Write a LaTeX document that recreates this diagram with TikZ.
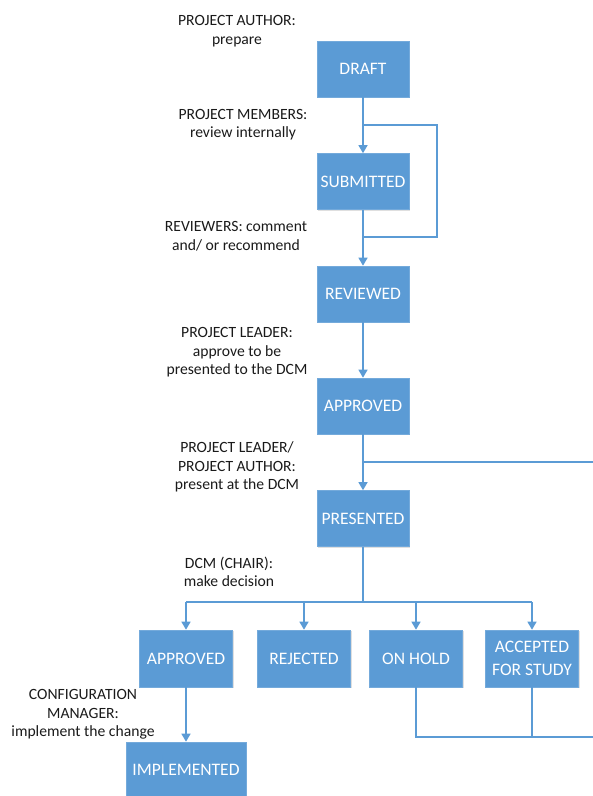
\documentclass[tikz,border=0pt]{standalone}
\usepackage{fontspec}
\setmainfont{Carlito}
\usepackage{xcolor}
\usetikzlibrary{arrows.meta,shadows}

\definecolor{boxblue}{HTML}{5B9BD5}
\definecolor{textgray}{HTML}{1A1A1A}

\tikzset{
  state/.style={rectangle, fill=boxblue, draw=boxblue!85!white, line width=0.6bp,
    minimum width=92bp, minimum height=56bp, inner sep=2bp, align=center,
    text=white, font=\fontsize{17.6}{22.5}\selectfont,
    drop shadow={opacity=0.25, shadow xshift=1.2bp, shadow yshift=-1.2bp}},
  decision/.style={state, minimum width=93bp, minimum height=57bp},
  note/.style={align=center, text=textgray, font=\fontsize{15.7}{18.7}\selectfont, inner sep=0pt},
  flow/.style={draw=boxblue, line width=1.3bp},
  arr/.style={flow, -{Triangle[width=9bp,length=8bp]}}
}

\begin{document}
\begin{tikzpicture}[x=1bp, y=-1bp]
\useasboundingbox (0,0) rectangle (593,796);
% States
\node[state] (draft) at (363,69) {DRAFT};
\node[state] (submitted) at (363,181.5) {SUBMITTED};
\node[state] (reviewed) at (363,294) {REVIEWED};
\node[state] (approved) at (363,406) {APPROVED};
\node[state] (presented) at (363,518.5) {PRESENTED};
\node[decision] (decapproved) at (186,658.5) {APPROVED};
\node[decision] (rejected) at (304,658.5) {REJECTED};
\node[decision] (onhold) at (416,658.5) {ON HOLD};
\node[decision] (accepted) at (532,658.5) {ACCEPTED\\FOR STUDY};
\node[state, minimum width=120bp] (implemented) at (186,770) {IMPLEMENTED};
% Notes
\node[note] (prepare) at (237,31) {PROJECT AUTHOR:\\prepare};
\node[note] (review) at (243,124.5) {PROJECT MEMBERS:\\review internally};
\node[note] (comment) at (236,236.5) {REVIEWERS: comment\\and/ or recommend};
\node[note] (approve) at (237,352.5) {PROJECT LEADER:\\approve to be\\presented to the DCM};
\node[note] (present) at (237,467) {PROJECT LEADER/\\PROJECT AUTHOR:\\present at the DCM};
\node[note] (decide) at (229,572) {DCM (CHAIR):\\make decision};
\node[note] (implement) at (83,714.5) {CONFIGURATION\\MANAGER:\\implement the change};
% Connector points
\coordinate (looptop) at (437,125);
\coordinate (loopbot) at (437,237);
\coordinate (presentout) at (593,462);
\coordinate (branch) at (363,602);
\coordinate (holdout) at (593,737);
% Connectors
\draw[arr] (draft) -- (submitted);
\draw[flow] (draft.south |- looptop) -- (looptop) -- (loopbot) -- (submitted.south |- loopbot);
\draw[arr] (submitted) -- (reviewed);
\draw[arr] (reviewed) -- (approved);
\draw[arr] (approved) -- (presented);
\draw[flow] (approved.south |- presentout) -- (presentout);
\draw[flow] (presented) -- (branch);
\draw[flow] (decapproved.north |- branch) -- (accepted.north |- branch);
\draw[arr] (decapproved.north |- branch) -- (decapproved.north);
\draw[arr] (rejected.north |- branch) -- (rejected.north);
\draw[arr] (onhold.north |- branch) -- (onhold.north);
\draw[arr] (accepted.north |- branch) -- (accepted.north);
\draw[arr] (decapproved) -- (implemented);
\draw[flow] (onhold) -- (onhold.south |- holdout) -- (holdout);
\draw[flow] (accepted) -- (accepted.south |- holdout);
\end{tikzpicture}
\end{document}
